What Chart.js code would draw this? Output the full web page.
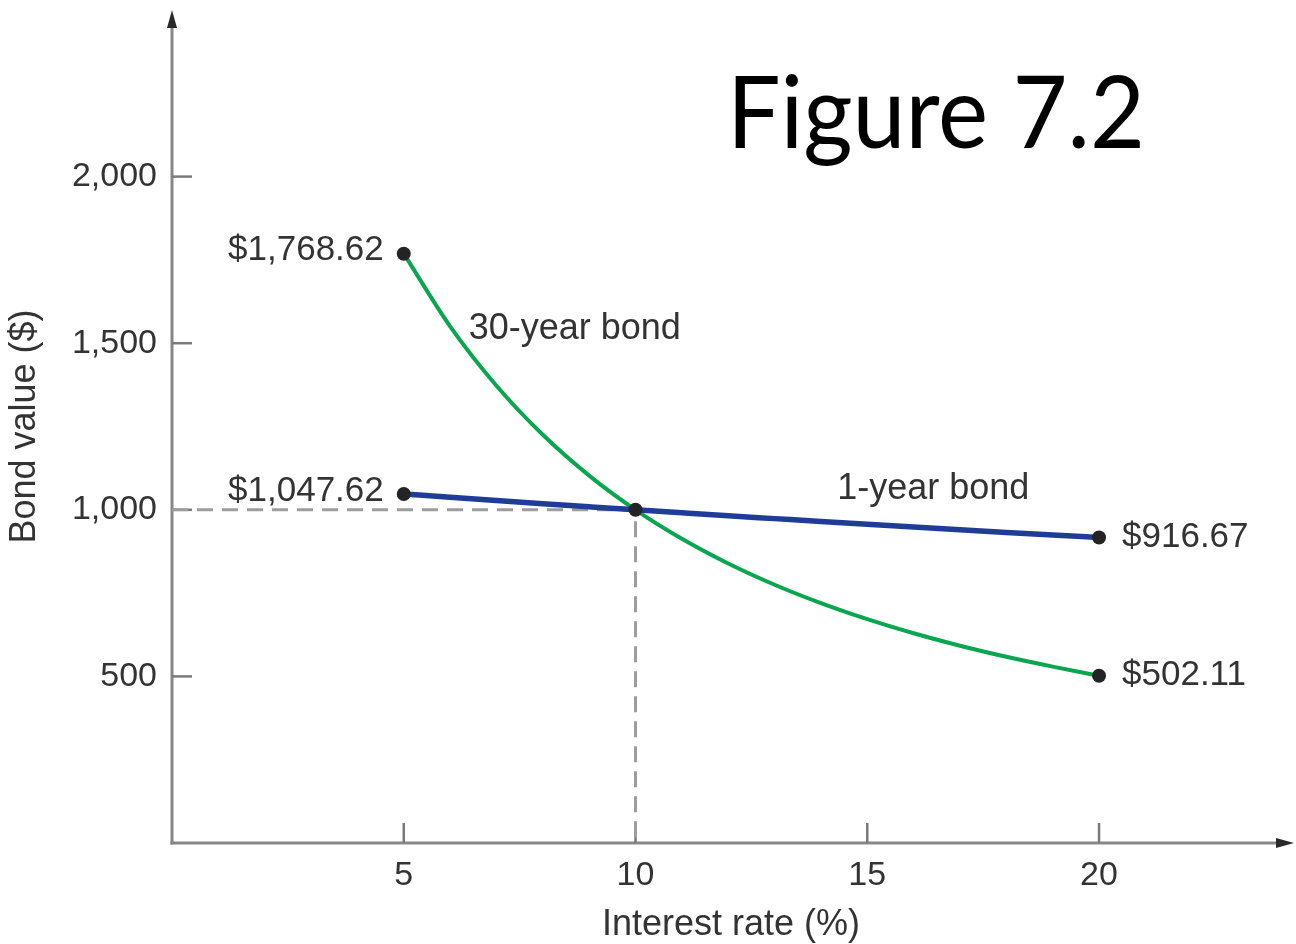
<!DOCTYPE html>
<html>
<head>
<meta charset="utf-8">
<script src="https://cdn.jsdelivr.net/npm/chart.js@4.4.1/dist/chart.umd.min.js"></script>
<style>
  html, body { margin: 0; padding: 0; background: #ffffff; }
  canvas { display: block; }
</style>
</head>
<body>
<canvas id="bondChart" width="1296" height="944"></canvas>
<script>
// Interest rates (%) and the value of each bond at that rate ($)
const rates = [5, 6, 7, 8, 9, 10, 11, 12, 13, 14, 15, 16, 17, 18, 19, 20];
const bond30Values = [1768.62, 1550.6, 1372.3, 1225.2, 1102.7, 1000, 913.1, 838.9, 775.1, 719.9, 671.7, 629.4, 592.0, 558.9, 529.4, 502.11];
const bond1Values = [1047.62, 1037.7, 1028.0, 1018.5, 1009.2, 1000, 991.0, 982.1, 973.5, 964.9, 956.5, 948.3, 940.2, 932.2, 924.4, 916.67];

// Axis ticks
const xTickValues = [5, 10, 15, 20];
const yTickValues = [500, 1000, 1500, 2000];

// Dashed guide through the par point (10%, $1,000)
const guideX = [0, 10, 10];
const guideY = [1000, 1000, 0];

const seriesNames = ['30-year bond', '1-year bond'];
const figureTitle = 'Figure 7.2';
const xAxisTitle = 'Interest rate (%)';
const yAxisTitle = 'Bond value ($)';

// Where the series names sit, in axis units (left edge, vertical middle)
const seriesNameAnchors = [[6.4, 1542], [14.35, 1062]];

const TEXT = '#333333';
const SANS = "'Liberation Sans', Arial, Helvetica, sans-serif";

const pts = (xs, ys) => xs.map((x, i) => ({ x: x, y: ys[i] }));
const last = a => a[a.length - 1];

// Endpoint markers of both curves plus the par crossing
const markerPoints = [
  { x: rates[0], y: bond30Values[0], side: 'left' },
  { x: rates[0], y: bond1Values[0], side: 'left' },
  { x: rates[rates.indexOf(10)], y: bond30Values[rates.indexOf(10)], side: null },
  { x: last(rates), y: last(bond1Values), side: 'right' },
  { x: last(rates), y: last(bond30Values), side: 'right' }
];

const money = v => '$' + v.toLocaleString('en-US', { minimumFractionDigits: 2, maximumFractionDigits: 2 });

// Scales keep a fixed footprint, with no extra room reserved for edge labels
const fixScale = size => s => {
  if (s.isHorizontal()) s.height = size; else s.width = size;
  s.paddingTop = 0;
  s.paddingBottom = 0;
  s.paddingLeft = 0;
  s.paddingRight = 0;
};

// Axis lines with arrowheads and inward tick marks
const axesPlugin = {
  id: 'axesWithArrows',
  beforeDatasetsDraw(chart) {
    const { ctx, chartArea: a, scales: { x, y } } = chart;
    const x0 = x.getPixelForValue(0);
    const y0 = y.getPixelForValue(0);
    ctx.save();
    ctx.strokeStyle = '#878787';
    ctx.lineWidth = 3;
    ctx.beginPath();
    ctx.moveTo(x0, y0 + 1.5);
    ctx.lineTo(x0, a.top + 12);
    ctx.stroke();
    ctx.beginPath();
    ctx.moveTo(x0 - 1.5, y0);
    ctx.lineTo(a.right - 10, y0);
    ctx.stroke();

    ctx.fillStyle = '#2a2a2a';
    ctx.beginPath();
    ctx.moveTo(x0, a.top);
    ctx.lineTo(x0 - 5, a.top + 18);
    ctx.lineTo(x0 + 5, a.top + 18);
    ctx.closePath();
    ctx.fill();
    ctx.beginPath();
    ctx.moveTo(a.right + 4, y0);
    ctx.lineTo(a.right - 14, y0 - 5);
    ctx.lineTo(a.right - 14, y0 + 5);
    ctx.closePath();
    ctx.fill();

    ctx.strokeStyle = '#7a7a7a';
    ctx.lineWidth = 2.5;
    yTickValues.forEach(v => {
      const py = y.getPixelForValue(v);
      ctx.beginPath();
      ctx.moveTo(x0, py);
      ctx.lineTo(x0 + 20, py);
      ctx.stroke();
    });
    xTickValues.forEach(v => {
      const px = x.getPixelForValue(v);
      ctx.beginPath();
      ctx.moveTo(px, y0);
      ctx.lineTo(px, y0 - 20);
      ctx.stroke();
    });
    ctx.restore();
  }
};

// Value labels beside the markers, series names and the figure heading
const labelsPlugin = {
  id: 'bondLabels',
  afterDatasetsDraw(chart) {
    const { ctx, scales: { x, y } } = chart;
    ctx.save();
    ctx.fillStyle = TEXT;
    ctx.textBaseline = 'middle';
    ctx.font = '35px ' + SANS;
    markerPoints.forEach(p => {
      if (!p.side) return;
      const px = x.getPixelForValue(p.x);
      const py = y.getPixelForValue(p.y);
      if (p.side === 'left') {
        ctx.textAlign = 'right';
        ctx.fillText(money(p.y), px - 20, py - 3);
      } else {
        ctx.textAlign = 'left';
        ctx.fillText(money(p.y), px + 23, py);
      }
    });

    ctx.font = '36px ' + SANS;
    ctx.textAlign = 'left';
    seriesNames.forEach((name, i) => {
      const [vx, vy] = seriesNameAnchors[i];
      ctx.fillText(name, x.getPixelForValue(vx), y.getPixelForValue(vy));
    });

    // Heading, fitted to its slot
    ctx.fillStyle = '#000000';
    ctx.textBaseline = 'alphabetic';
    ctx.font = '100px Lato, "Open Sans", sans-serif';
    const w = ctx.measureText(figureTitle).width;
    const targetW = 418;
    ctx.translate(727, 148);
    ctx.scale(targetW / w, 1);
    ctx.fillText(figureTitle, 0, 0);
    ctx.restore();
  }
};

new Chart(document.getElementById('bondChart'), {
  type: 'line',
  data: {
    datasets: [
      {
        label: 'guide',
        data: pts(guideX, guideY),
        borderColor: '#9d9d9d',
        borderWidth: 3,
        borderDash: [16, 9],
        pointRadius: 0,
        tension: 0,
        order: 3
      },
      {
        label: seriesNames[0],
        data: pts(rates, bond30Values),
        borderColor: '#0aa64f',
        borderWidth: 4,
        pointRadius: 0,
        cubicInterpolationMode: 'monotone',
        order: 2
      },
      {
        label: seriesNames[1],
        data: pts(rates, bond1Values),
        borderColor: '#1f3c97',
        borderWidth: 5.5,
        pointRadius: 0,
        cubicInterpolationMode: 'monotone',
        order: 1
      },
      {
        label: 'markers',
        data: markerPoints.map(p => ({ x: p.x, y: p.y })),
        showLine: false,
        pointRadius: 7,
        pointBackgroundColor: '#242424',
        pointBorderWidth: 0,
        order: 0
      }
    ]
  },
  options: {
    responsive: false,
    animation: false,
    layout: { autoPadding: false, padding: { top: 10, right: 6, left: 0, bottom: 0 } },
    plugins: {
      legend: { display: false },
      tooltip: { enabled: false }
    },
    scales: {
      x: {
        type: 'linear',
        min: 0,
        max: 24.12,
        grid: { display: false, drawTicks: false },
        border: { display: false },
        afterBuildTicks: s => { s.ticks = xTickValues.map(v => ({ value: v })); },
        afterFit: fixScale(101),
        ticks: {
          autoSkip: false,
          maxRotation: 0,
          padding: 12,
          color: TEXT,
          font: { family: SANS, size: 34 }
        },
        title: {
          display: true,
          text: xAxisTitle,
          color: TEXT,
          font: { family: SANS, size: 36 },
          padding: { top: 0, bottom: -3 }
        }
      },
      y: {
        type: 'linear',
        min: 0,
        max: 2500,
        grid: { display: false, drawTicks: false },
        border: { display: false },
        afterBuildTicks: s => { s.ticks = yTickValues.map(v => ({ value: v })); },
        afterFit: fixScale(172),
        ticks: {
          autoSkip: false,
          padding: 15,
          color: TEXT,
          font: { family: SANS, size: 34 },
          callback: v => v.toLocaleString('en-US')
        },
        title: {
          display: true,
          text: yAxisTitle,
          color: TEXT,
          font: { family: SANS, size: 36 },
          padding: { top: 3, bottom: 0 }
        }
      }
    }
  },
  plugins: [axesPlugin, labelsPlugin]
});
</script>
</body>
</html>
